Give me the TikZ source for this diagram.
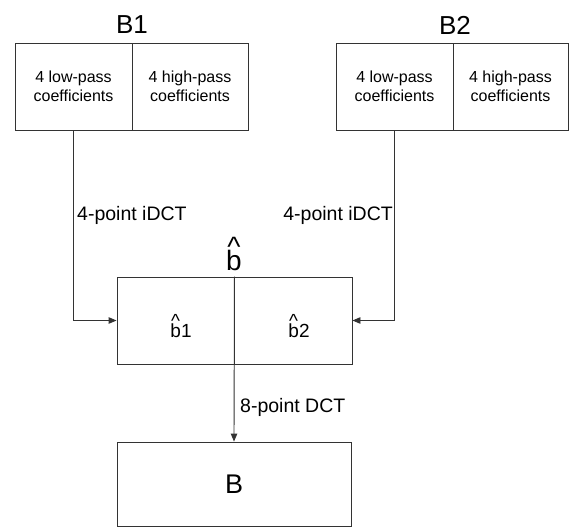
\documentclass[tikz,border=0pt]{standalone}
\usepackage{fontspec}
\setmainfont{Liberation Sans}
\usetikzlibrary{arrows.meta}
\newcommand{\hatb}[1]{\makebox[0pt][l]{\hspace{0.04em}\raisebox{0.5em}{\textasciicircum}}b#1}
\begin{document}
\begin{tikzpicture}[x=1pt,y=-1pt,
  line/.style={draw=black!80,line width=0.9pt},
  half/.style={line,rectangle,inner sep=0pt,minimum height=87pt,align=center,font=\fontsize{16}{18.5}\selectfont},
  lbl/.style={inner sep=0pt,font=\fontsize{19.5}{22}\selectfont},
  ttl/.style={inner sep=0pt,font=\fontsize{26}{30}\selectfont},
  arr/.style={line,-{Triangle[length=8pt,width=6.5pt]}}]
\useasboundingbox (0,0) rectangle (569,527);
% B1
\node[half,minimum width=117pt] (b1lo) at (73.5,86.5) {4 low-pass\\coefficients};
\node[half,minimum width=116pt] (b1hi) at (190,86.5) {4 high-pass\\coefficients};
\node[ttl] (t1) at (132,25) {B1};
% B2
\node[half,minimum width=117pt] (b2lo) at (394.5,86.5) {4 low-pass\\coefficients};
\node[half,minimum width=115pt] (b2hi) at (510.5,86.5) {4 high-pass\\coefficients};
\node[ttl] (t2) at (455,25) {B2};
% middle
\node[half,minimum width=117pt] (m1) at (175.5,320.5) {};
\node[half,minimum width=118pt] (m2) at (293,320.5) {};
\node[inner sep=0pt,anchor=base,font=\fontsize{19}{22}\selectfont] (h1) at (181,337) {\hatb{1}};
\node[inner sep=0pt,anchor=base,font=\fontsize{19}{22}\selectfont] (h2) at (299,337) {\hatb{2}};
\node[inner sep=0pt,anchor=base,font=\fontsize{28}{32}\selectfont] (hb) at (234,270) {\hatb{}};
% bottom
\node[line,rectangle,inner sep=0pt,minimum width=234pt,minimum height=84pt,font=\fontsize{27}{30}\selectfont] (B) at (234,484) {B};
% connectors
\draw[arr] (b1lo.south) |- (m1.west);
\draw[arr] (b2lo.south) |- (m2.east);
\draw[arr] (m1.north east) -- (B.north);
% labels
\node[lbl,anchor=west] (l1) at (77,215) {4-point iDCT};
\node[lbl,anchor=east] (l2) at (393,215) {4-point iDCT};
\node[lbl,anchor=west] (l3) at (240,407) {8-point DCT};
\end{tikzpicture}
\end{document}
